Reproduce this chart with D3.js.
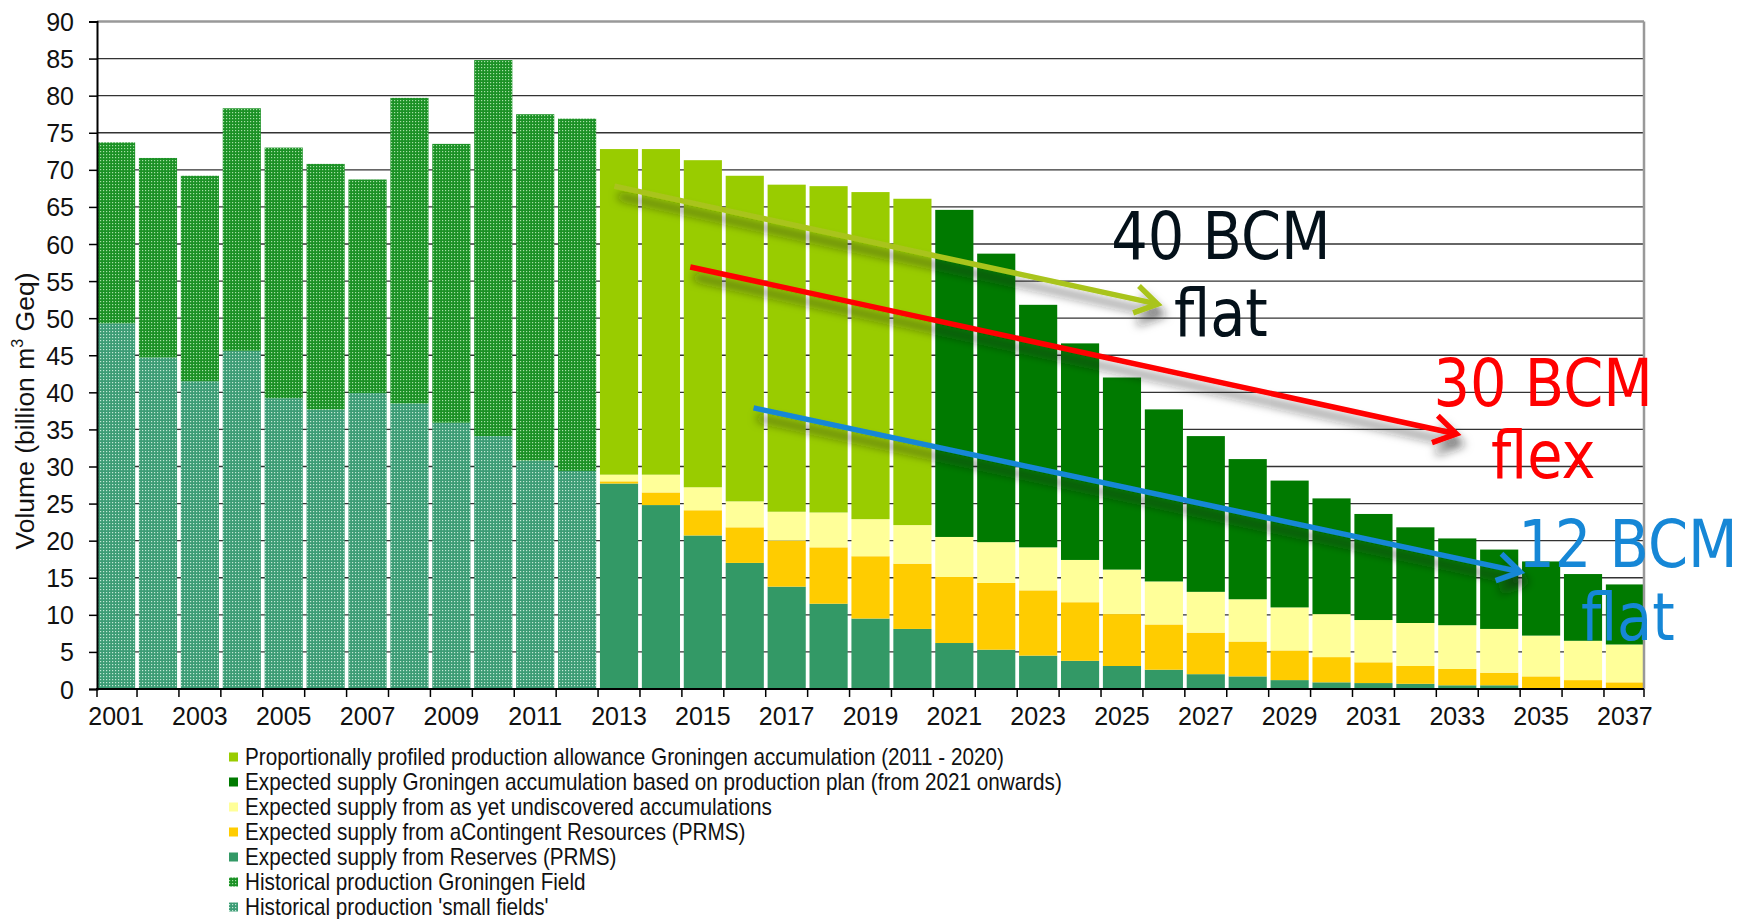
<!DOCTYPE html>
<html><head><meta charset="utf-8">
<script src="https://cdn.jsdelivr.net/npm/d3@7"></script>
<style>body{margin:0;background:#fff}svg{display:block}</style>
</head><body>
<svg id="chart" width="1744" height="919"></svg>
<script>
// ---------- DATA ----------
const years = [2001,2002,2003,2004,2005,2006,2007,2008,2009,2010,2011,2012,2013,2014,2015,2016,2017,2018,2019,2020,2021,2022,2023,2024,2025,2026,2027,2028,2029,2030,2031,2032,2033,2034,2035,2036,2037];
// historical 2001-2012
const histSmallFields = [49.3,44.7,41.5,45.6,39.2,37.7,39.9,38.5,35.9,34.1,30.8,29.4];
const histGroningen   = [24.4,26.9,27.7,32.7,33.8,33.1,28.8,41.2,37.6,50.7,46.7,47.5];
// projections 2013-2037
const reserves     = [27.7,24.8,20.7,17.0,13.8,11.5,9.5,8.1,6.2,5.3,4.5,3.8,3.1,2.6,2.0,1.7,1.2,0.9,0.8,0.7,0.5,0.5,0.1,0,0];
const contingent   = [0.3,1.7,3.4,4.8,6.2,7.6,8.4,8.8,8.9,9.0,8.8,7.9,7.0,6.1,5.6,4.7,4.0,3.4,2.8,2.4,2.2,1.7,1.6,1.2,0.9];
const undiscovered = [0.9,2.4,3.1,3.5,3.9,4.7,5.0,5.2,5.4,5.5,5.8,5.7,6.0,5.8,5.5,5.7,5.8,5.8,5.7,5.8,5.9,5.9,5.5,5.3,5.1];
// Groningen allowance 2013-2020, production plan 2021-2037
const groningenAllowance = [43.9,43.9,44.1,43.9,44.1,44.0,44.1,44.0];
const groningenPlan      = [44.1,38.9,32.7,29.2,25.9,23.2,21.0,18.9,17.1,15.6,14.3,12.9,11.7,10.7,10.0,9.0,8.1];

const yTicks = [0,5,10,15,20,25,30,35,40,45,50,55,60,65,70,75,80,85,90];
const xTickLabels = [2001,2003,2005,2007,2009,2011,2013,2015,2017,2019,2021,2023,2025,2027,2029,2031,2033,2035,2037];
const seriesKeys = ["small","gHist","reserves","contingent","undiscovered","allowance","plan"];
const legendLabels = [
  "Proportionally profiled production allowance Groningen accumulation (2011 - 2020)",
  "Expected supply Groningen accumulation based on production plan (from 2021 onwards)",
  "Expected supply from as yet undiscovered accumulations",
  "Expected supply from aContingent Resources (PRMS)",
  "Expected supply from Reserves (PRMS)",
  "Historical production Groningen Field",
  "Historical production 'small fields'"
];
const legendKeys = ["allowance","plan","undiscovered","contingent","reserves","gHist","small"];

// annotation arrows / labels in data units (year, volume)
const arrowData = [
  {from:[2012.89,67.8], to:[2025.85,51.9], color:"#a9c41c"},
  {from:[2014.70,56.9], to:[2032.98,34.4], color:"#ff0000"},
  {from:[2016.21,37.9], to:[2034.50,15.8], color:"#1687d6"}
];
const labelData = [
  {text:"40 BCM", year:2027.36, value:57.95, color:"#04111a"},
  {text:"flat",   year:2027.36, value:47.6,  color:"#04111a"},
  {text:"30 BCM", year:2035.05, value:38.1,  color:"#ff0000"},
  {text:"flex",   year:2035.05, value:28.4,  color:"#ff0000"},
  {text:"12 BCM", year:2037.07, value:16.4,  color:"#1687d6"},
  {text:"flat",   year:2037.07, value:6.6,   color:"#1687d6"}
];

// ---------- BUILD ----------
const rows = years.map((yr,i)=>({
  year: yr,
  small: i<12 ? histSmallFields[i] : 0,
  gHist: i<12 ? histGroningen[i] : 0,
  reserves: i>=12 ? reserves[i-12] : 0,
  contingent: i>=12 ? contingent[i-12] : 0,
  undiscovered: i>=12 ? undiscovered[i-12] : 0,
  allowance: (i>=12 && i<20) ? groningenAllowance[i-12] : 0,
  plan: i>=20 ? groningenPlan[i-20] : 0
}));

const svg = d3.select("#chart");
const W = 1744, H = 919;
const L = 97, R = 1644, T = 21.5, B = 689;
const font = "'Liberation Sans', Arial, sans-serif";

const defs = svg.append("defs");
function dotPattern(id, base, dot){
  const p = defs.append("pattern").attr("id",id).attr("width",3).attr("height",3).attr("patternUnits","userSpaceOnUse");
  p.append("rect").attr("width",3).attr("height",3).attr("fill",base);
  p.append("rect").attr("x",1).attr("y",1).attr("width",1.2).attr("height",1.2).attr("fill",dot);
}
dotPattern("patG","#1b9125","#a6dfa6");
dotPattern("patS","#3c9c75","#c2e8d6");
const f = defs.append("filter").attr("id","shadow").attr("x","-20%").attr("y","-50%").attr("width","140%").attr("height","250%");
f.append("feDropShadow").attr("dx",4).attr("dy",10).attr("stdDeviation",5).attr("flood-color","#202020").attr("flood-opacity",0.6);

const colors = {
  small:"url(#patS)", gHist:"url(#patG)", reserves:"#339966", contingent:"#ffcc00",
  undiscovered:"#ffff99", allowance:"#99cc00", plan:"#007a00"
};

const x = d3.scaleBand().domain(years).range([L,R]).paddingInner(0.09).paddingOuter(0);
const y = d3.scaleLinear().domain([0,90]).range([B,T]);
const xc = d3.scaleLinear().domain([years[0], years[years.length-1]])
  .range([x(years[0])+x.bandwidth()/2, x(years[years.length-1])+x.bandwidth()/2]);

svg.append("rect").attr("width",W).attr("height",H).attr("fill","#fff");

// gridlines (behind bars)
svg.append("g").selectAll("line").data(yTicks.filter(t=>t>0 && t<90)).join("line")
  .attr("x1",L).attr("x2",R).attr("y1",d=>y(d)).attr("y2",d=>y(d))
  .attr("stroke","#333").attr("stroke-width",1.3);

// bars
const stack = d3.stack().keys(seriesKeys)(rows);
svg.append("g").selectAll("g").data(stack).join("g")
  .attr("fill",d=>colors[d.key])
  .selectAll("rect").data(d=>d.filter(s=>s[1]-s[0]>0)).join("rect")
  .attr("x",d=>x(d.data.year)).attr("width",x.bandwidth())
  .attr("y",d=>y(d[1])).attr("height",d=>y(d[0])-y(d[1]));

// frame: top & right gray
svg.append("line").attr("x1",L).attr("x2",R).attr("y1",y(90)).attr("y2",y(90)).attr("stroke","#999").attr("stroke-width",2.5);
svg.append("line").attr("x1",R).attr("x2",R).attr("y1",y(90)).attr("y2",y(0)).attr("stroke","#999").attr("stroke-width",2.5);

// y axis
const yAxis = d3.axisLeft(y).tickValues(yTicks).tickSize(8).tickPadding(15).tickFormat(d3.format("d"));
const gy = svg.append("g").attr("transform",`translate(${L},0)`).call(yAxis);
gy.select(".domain").attr("stroke","#000").attr("stroke-width",2);
gy.selectAll(".tick line").attr("stroke","#000").attr("stroke-width",1.5);
gy.selectAll(".tick text").attr("font-family",font).attr("font-size",25).attr("fill","#111").attr("dy","0.36em");

// x axis: ticks at band boundaries
const bounds = years.map(yr=>x(yr)-x.step()*x.paddingInner()/2);
bounds[0] = L; bounds.push(R);
const gx = svg.append("g");
gx.append("line").attr("x1",L-1).attr("x2",R).attr("y1",B).attr("y2",B).attr("stroke","#000").attr("stroke-width",2);
gx.selectAll("line.t").data(bounds).join("line").attr("class","t")
  .attr("x1",d=>d).attr("x2",d=>d).attr("y1",B).attr("y2",B+8).attr("stroke","#000").attr("stroke-width",1.5);
gx.selectAll("text").data(xTickLabels).join("text")
  .attr("x",d=>x(d)+x.bandwidth()/2).attr("y",725)
  .attr("text-anchor","middle").attr("font-family",font).attr("font-size",25).attr("fill","#111")
  .text(d=>d);

// y title
const yt = svg.append("text").attr("transform","translate(34,411) rotate(-90)")
  .attr("text-anchor","middle").attr("font-family",font).attr("font-size",26.5).attr("fill","#111");
yt.append("tspan").text("Volume (billion m");
yt.append("tspan").attr("font-size",16).attr("dy",-11).text("3");
yt.append("tspan").attr("dy",11).text(" Geq)");

// arrows
const ag = svg.append("g").attr("filter","url(#shadow)");
arrowData.forEach(a=>{
  const x0=xc(a.from[0]), y0=y(a.from[1]), x1=xc(a.to[0]), y1=y(a.to[1]);
  const ang = Math.atan2(y1-y0, x1-x0);
  const len = 26, spread = 32*Math.PI/180;
  const p1 = [x1 - len*Math.cos(ang-spread), y1 - len*Math.sin(ang-spread)];
  const p2 = [x1 - len*Math.cos(ang+spread), y1 - len*Math.sin(ang+spread)];
  const g = ag.append("g").attr("stroke",a.color).attr("stroke-width",5.5).attr("fill","none").attr("stroke-linecap","butt");
  g.append("line").attr("x1",x0).attr("y1",y0).attr("x2",x1-2*Math.cos(ang)).attr("y2",y1-2*Math.sin(ang));
  g.append("path").attr("d",`M${p1[0]},${p1[1]}L${x1},${y1}L${p2[0]},${p2[1]}`).attr("stroke-linejoin","miter");
});

// annotation labels
svg.append("g").selectAll("text").data(labelData).join("text")
  .attr("transform",d=>`translate(${xc(d.year)},${y(d.value)}) scale(0.87,1)`)
  .attr("text-anchor","middle").attr("font-family","'DejaVu Sans', Verdana, sans-serif")
  .attr("font-size",66).attr("fill",d=>d.color).text(d=>d.text);

// legend
const lg = svg.append("g");
legendKeys.forEach((k,i)=>{
  const cy = 757 + i*25;
  lg.append("rect").attr("x",229).attr("y",cy-4.5).attr("width",9).attr("height",9).attr("fill",colors[k]);
  lg.append("text").attr("transform",`translate(245,${cy+8}) scale(0.9,1)`)
    .attr("font-family",font).attr("font-size",23).attr("fill","#111").text(legendLabels[i]);
});
</script>
</body></html>
